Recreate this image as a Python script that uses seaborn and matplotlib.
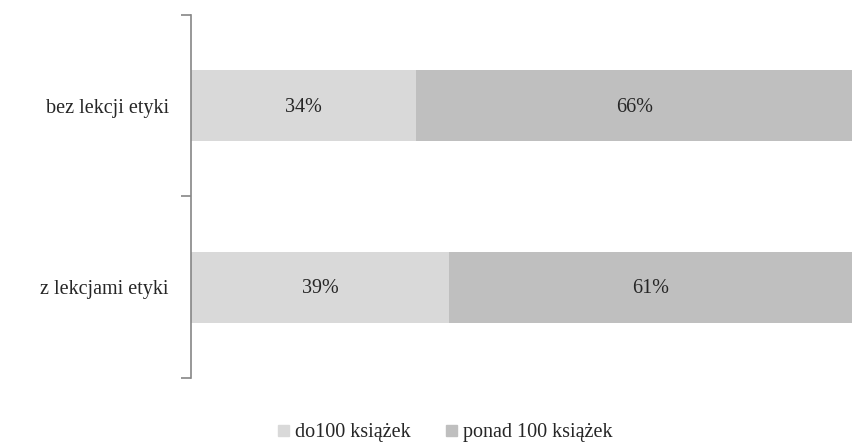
import matplotlib
matplotlib.use("Agg")
import matplotlib.pyplot as plt
import seaborn as sns
import pandas as pd
from matplotlib.patches import Patch

categories = ["bez lekcji etyki", "z lekcjami etyki"]
do_100 = [34, 39]
ponad_100 = [66, 61]
series_names = ["do100 książek", "ponad 100 książek"]

light = "#d9d9d9"
dark = "#bfbfbf"

sns.set_theme(style="white")
plt.rcParams["font.family"] = ["Liberation Serif", "DejaVu Serif"]

df = pd.DataFrame({"cat": categories, "a": do_100, "b": ponad_100})
df["total"] = df["a"] + df["b"]

fig = plt.figure(figsize=(8.53, 4.44), dpi=100)
ax = fig.add_axes([0.224, 0.149, 0.776, 0.817])

# stacked: full bar first, then first segment on top
sns.barplot(data=df, x="total", y="cat", orient="h", color=dark,
            width=0.39, saturation=1, linewidth=0, ax=ax)
sns.barplot(data=df, x="a", y="cat", orient="h", color=light,
            width=0.39, saturation=1, linewidth=0, ax=ax)

fs = 14.5
for i, row in df.iterrows():
    ax.text(row["a"] / 2, i + 0.01, f"{row['a']}%", ha="center", va="center",
            fontsize=fs, color="#262626")
    ax.text(row["a"] + row["b"] / 2, i + 0.01, f"{row['b']}%", ha="center",
            va="center", fontsize=fs, color="#262626")

ax.set_xlim(0, 100)
ax.set_ylim(1.5, -0.5)
ax.set_xlabel("")
ax.set_ylabel("")
ax.set_xticks([])

# tick marks at category boundaries, labels at centers
ax.set_yticks([-0.5, 0.5, 1.5])
ax.set_yticklabels([])
ax.set_yticks([0, 1], minor=True)
ax.set_yticklabels(categories, minor=True, fontsize=fs, color="#262626")
ax.tick_params(axis="y", which="major", length=7, width=1.2, color="#868686", left=True)
ax.tick_params(axis="y", which="minor", length=0, pad=16)

for s in ["top", "right", "bottom"]:
    ax.spines[s].set_visible(False)
ax.spines["left"].set_color("#868686")
ax.spines["left"].set_linewidth(1.2)

handles = [Patch(color=light, label=series_names[0]),
           Patch(color=dark, label=series_names[1])]
fig.legend(handles=handles, loc="center", bbox_to_anchor=(0.522, 0.025),
           ncol=2, frameon=False, fontsize=fs, handlelength=0.5,
           handleheight=0.5, handletextpad=0.3, columnspacing=1.8)

fig.savefig("out.png", dpi=100)
